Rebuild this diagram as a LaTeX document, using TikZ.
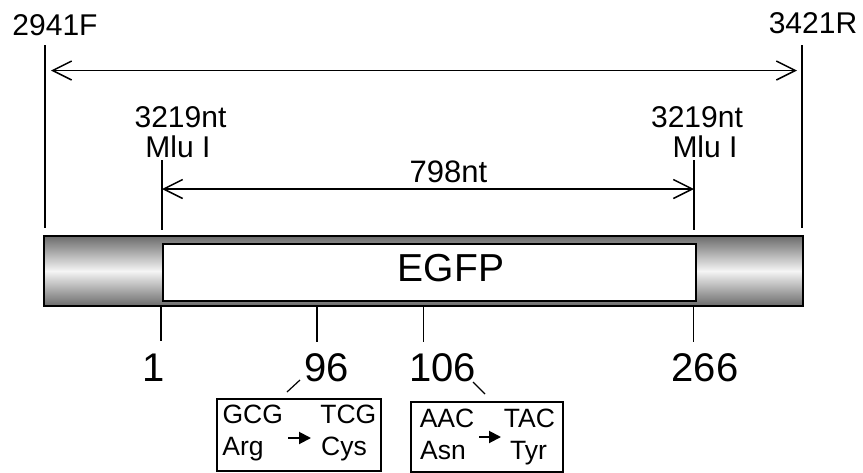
\documentclass[tikz,border=0pt]{standalone}
\usepackage{fontspec}
\setmainfont{Liberation Sans}
\usetikzlibrary{arrows.meta}
\begin{document}
\begin{tikzpicture}[x=1pt,y=-1pt,
  lbl/.style={anchor=base, inner sep=0pt, font=\fontsize{30}{30}\selectfont},
  posnum/.style={anchor=base, inner sep=0pt, font=\fontsize{40}{40}\selectfont},
  codon/.style={anchor=base, inner sep=0pt, font=\fontsize{26.5}{26.5}\selectfont},
  guide/.style={line width=1.5pt},
  dimline/.style={line width=1.5pt,
    {Straight Barb[length=19pt,width=19pt]}-{Straight Barb[length=19pt,width=19pt]}},
  mutbox/.style={draw, line width=1.5pt},
  substarrow/.style={line width=2pt, -{Triangle[length=12pt,width=12pt]}},
  leader/.style={line width=1.2pt}]
\useasboundingbox (0,0) rectangle (863,472);

% plasmid segment with shaded flanks and the EGFP insert
\shade[top color=black!58, bottom color=black!58, middle color=black!4]
  (44,236) rectangle (803,306);
\draw[line width=1.8pt] (44,236) rectangle (803,306);
\node[draw, line width=2.6pt, fill=white, minimum width=533pt, minimum height=57pt,
  inner sep=0pt, anchor=north west] (egfp) at (161.5,242.5) {};
\node[anchor=base, inner sep=0pt, font=\fontsize{39}{39}\selectfont] (egfplbl) at (451,281.7) {EGFP};

% primer positions
\node[lbl] (fwd) at (55,35) {2941F};
\node[lbl] (rev) at (813,33) {3421R};
\coordinate (fwdtop) at (45,45);
\coordinate (fwdbot) at (45,228);
\coordinate (revtop) at (802,45);
\coordinate (revbot) at (802,228);
\draw[guide] (fwdtop) -- (fwdbot);
\draw[guide] (revtop) -- (revbot);
\coordinate (pcrL) at (51,70.5);
\coordinate (pcrR) at (797,70.5);
\draw[dimline] (pcrL) -- (pcrR);

% Mlu I sites
\node[lbl] (cutLa) at (180.5,127) {3219nt};
\node[lbl] (cutLb) at (178,157) {Mlu I};
\node[lbl] (cutRa) at (697,127) {3219nt};
\node[lbl] (cutRb) at (705,157) {Mlu I};
\coordinate (siteLtop) at (162,160);
\coordinate (siteLbot) at (162,230);
\coordinate (siteRtop) at (694,160);
\coordinate (siteRbot) at (694,230);
\draw[guide] (siteLtop) -- (siteLbot);
\draw[guide] (siteRtop) -- (siteRbot);
\coordinate (insL) at (162,189);
\coordinate (insR) at (694,189);
\draw[dimline] (insL) -- (insR);
\node[lbl, font=\fontsize{31}{31}\selectfont] (len) at (448.5,182) {798nt};

% codon ticks under the insert
\coordinate (t1a) at (161,306); \coordinate (t1b) at (161,341);
\coordinate (t2a) at (317,306); \coordinate (t2b) at (317,342);
\coordinate (t3a) at (423.5,306); \coordinate (t3b) at (423.5,342);
\coordinate (t4a) at (693.5,306); \coordinate (t4b) at (693.5,342);
\draw[guide] (t1a) -- (t1b);
\draw[guide] (t2a) -- (t2b);
\draw[guide] (t3a) -- (t3b);
\draw[guide] (t4a) -- (t4b);
\node[posnum] (p1) at (154,381) {1};
\node[posnum] (p96) at (327,381) {96};
\node[posnum] (p106) at (442.5,381) {106};
\node[posnum] (p266) at (705,381) {266};

% codon 96 substitution
\node[mutbox, minimum width=164pt, minimum height=72pt, anchor=north west, inner sep=0pt]
  (m96) at (216,398) {};
\node[codon] (c96a) at (252.8,423) {GCG};
\node[codon] (c96b) at (348.3,423) {TCG};
\node[codon] (a96a) at (243,455) {Arg};
\node[codon] (a96b) at (344,455) {Cys};
\coordinate (s96a) at (288,438);
\coordinate (s96b) at (311,438);
\draw[substarrow] (s96a) -- (s96b);
\coordinate (l96a) at (287,392);
\coordinate (l96b) at (300,380);
\draw[leader] (l96a) -- (l96b);

% codon 106 substitution
\node[mutbox, minimum width=152pt, minimum height=70pt, anchor=north west, inner sep=0pt]
  (m106) at (410,401) {};
\node[codon] (c106a) at (447,427) {AAC};
\node[codon] (c106b) at (529.5,427) {TAC};
\node[codon] (a106a) at (443,459) {Asn};
\node[codon] (a106b) at (528.5,459) {Tyr};
\coordinate (s106a) at (479,437);
\coordinate (s106b) at (501,437);
\draw[substarrow] (s106a) -- (s106b);
\coordinate (l106a) at (473,382);
\coordinate (l106b) at (485,394);
\draw[leader] (l106a) -- (l106b);
\end{tikzpicture}
\end{document}
